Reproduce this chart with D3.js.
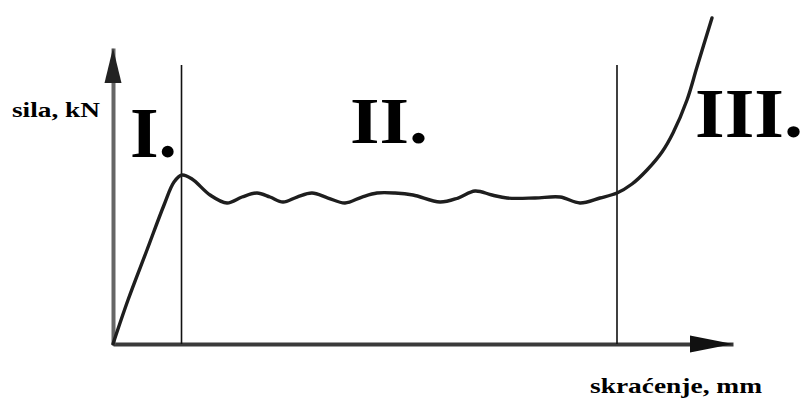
<!DOCTYPE html>
<html>
<head>
<meta charset="utf-8">
<script src="https://cdn.jsdelivr.net/npm/d3@7"></script>
<style>
  html, body { margin: 0; padding: 0; background: #fff; }
  svg { display: block; }
  text { font-family: "Liberation Serif", "Times New Roman", serif; font-weight: bold; fill: #000; }
</style>
</head>
<body>
<svg id="chart" width="805" height="401"></svg>
<script>
// Shortening (mm, arbitrary units) and force (kN, arbitrary units)
const skracenje = [0, 2.42, 5.48, 8.23, 9.84, 11.13, 12.74, 15.65, 18.39, 20.81, 23.23, 25.32, 27.42, 29.68,
  32.10, 34.68, 37.42, 40.16, 42.58, 45.48, 48.39, 52.74, 55.65, 58.39, 61.13, 63.55, 68.06, 72.10, 75.32,
  78.55, 81.29, 83.71, 86.13, 88.55, 90.32, 92.58, 94.19, 96.61];
const sila = [0, 14.86, 31.76, 46.96, 54.73, 57.09, 55.74, 50.34, 47.64, 49.66, 51.01, 49.66, 47.97, 49.66,
  51.01, 49.32, 47.64, 49.66, 51.01, 51.01, 50.34, 47.97, 49.32, 51.69, 50.34, 49.32, 49.32, 49.66, 47.64,
  49.32, 51.01, 54.05, 58.78, 64.86, 71.28, 82.43, 93.58, 110.14];
// Phase boundaries (mm) and their top (kN)
const granice = [11.05, 81.29];
const granicaVrh = 94.26;
// Phase labels
const faze = ["I.", "II.", "III."];
const yLabel = "sila, kN";
const xLabel = "skraćenje, mm";

const svg = d3.select("#chart");
const x = d3.scaleLinear().domain([0, 100]).range([113, 733]);
const y = d3.scaleLinear().domain([0, 100]).range([344, 48]);

// Axes (no ticks), drawn via d3 axis generators
const xAxis = svg.append("g").attr("transform", `translate(0,${y(0)})`)
  .call(d3.axisBottom(x).tickValues([]).tickSizeOuter(0));
xAxis.select(".domain").attr("stroke", "#3a3a3a").attr("stroke-width", 4);

const yAxis = svg.append("g").attr("transform", `translate(${x(0)},0)`)
  .call(d3.axisLeft(y).tickValues([]).tickSizeOuter(0));
yAxis.select(".domain").attr("stroke", "#666").attr("stroke-width", 4);

// Arrowheads
const xr = x.range(), yr = y.range();
svg.append("path")
  .attr("d", `M${xr[1]},${y(0)} L${xr[1] - 43},${y(0) - 8.5} L${xr[1] - 43},${y(0) + 8.5} Z`)
  .attr("fill", "#111");
svg.append("path")
  .attr("d", `M${x(0)},${yr[1]} L${x(0) - 8.5},${yr[1] + 35} L${x(0) + 8.5},${yr[1] + 35} Z`)
  .attr("fill", "#222");

// Phase boundary lines
svg.selectAll("line.granica").data(granice).join("line")
  .attr("class", "granica")
  .attr("x1", d => x(d)).attr("x2", d => x(d))
  .attr("y1", y(0)).attr("y2", y(granicaVrh))
  .attr("stroke", "#111").attr("stroke-width", 1.6);

// Curve
const data = skracenje.map((v, i) => [v, sila[i]]);
const line = d3.line().x(d => x(d[0])).y(d => y(d[1])).curve(d3.curveCatmullRom.alpha(0.5));
svg.append("path").datum(data)
  .attr("d", line)
  .attr("fill", "none")
  .attr("stroke", "#1e1e1e")
  .attr("stroke-width", 3.4)
  .attr("stroke-linejoin", "round")
  .attr("stroke-linecap", "round");

// Phase labels
const fazePos = [
  { x: 130, y: 157, size: 72, len: 47 },
  { x: 350, y: 143, size: 66, len: 78 },
  { x: 695, y: 137, size: 70, len: 108 }
];
svg.selectAll("text.faza").data(faze).join("text")
  .attr("class", "faza")
  .attr("x", (d, i) => fazePos[i].x)
  .attr("y", (d, i) => fazePos[i].y)
  .attr("font-size", (d, i) => fazePos[i].size)
  .attr("textLength", (d, i) => fazePos[i].len)
  .attr("lengthAdjust", "spacingAndGlyphs")
  .text(d => d);

// Axis titles
svg.append("text").attr("x", 12).attr("y", 117).attr("font-size", 21)
  .attr("textLength", 88).attr("lengthAdjust", "spacingAndGlyphs").text(yLabel);
svg.append("text").attr("x", 590).attr("y", 393).attr("font-size", 21)
  .attr("textLength", 172).attr("lengthAdjust", "spacingAndGlyphs").text(xLabel);
</script>
</body>
</html>
